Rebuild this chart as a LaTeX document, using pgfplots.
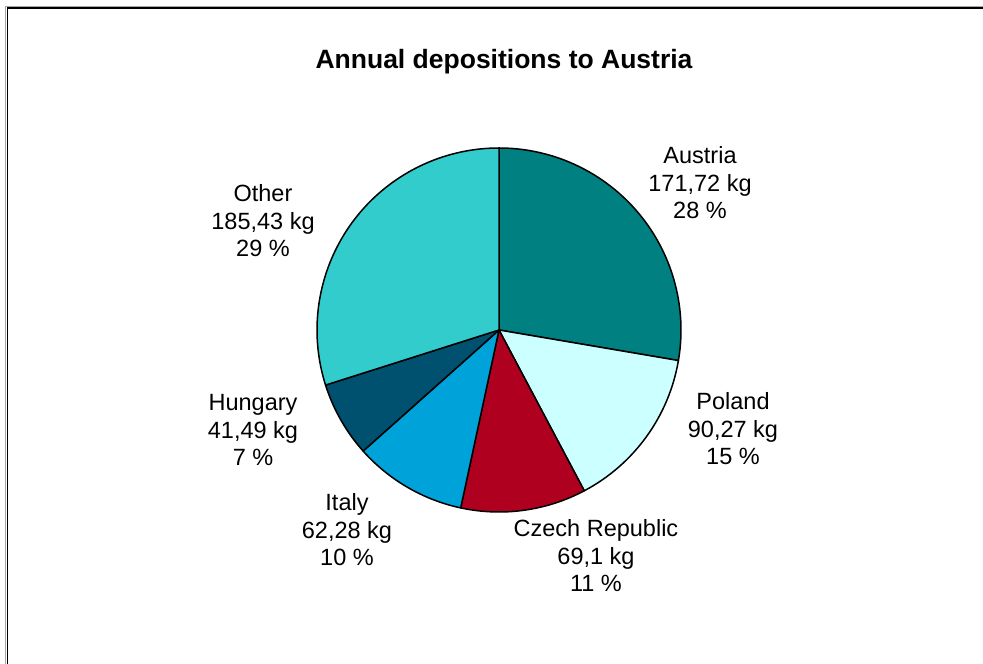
\documentclass[border=0pt]{standalone}
\usepackage{pgfplots}
\usepackage{pgfplotstable}
\pgfplotsset{compat=1.18}
\usepackage{fontspec}
\setmainfont{Liberation Sans}

\definecolor{pc0}{RGB}{0,128,128}
\definecolor{pc1}{RGB}{204,255,255}
\definecolor{pc2}{RGB}{176,0,32}
\definecolor{pc3}{RGB}{0,163,217}
\definecolor{pc4}{RGB}{0,80,112}
\definecolor{pc5}{RGB}{51,204,204}

% deposition per source country, kg
\pgfplotstableread{
name value
Austria 171.72
Poland 90.27
Czech 69.1
Italy 62.28
Hungary 41.49
Other 185.43
}\piedata

\begin{document}
\begin{tikzpicture}
\path[use as bounding box] (0,0) rectangle (983pt,664pt);
% total and slice angles (clockwise from the top)
\gdef\pietotal{0}
\pgfplotstableforeachcolumnelement{value}\of\piedata\as\v{%
  \pgfmathsetmacro\tmp{\pietotal+\v}\global\let\pietotal\tmp}
\gdef\acc{90}
\pgfplotstableforeachcolumnelement{value}\of\piedata\as\v{%
  \pgfmathsetmacro\en{\acc-\v/\pietotal*360}%
  \expandafter\xdef\csname ps\pgfplotstablerow\endcsname{\acc}%
  \expandafter\xdef\csname pe\pgfplotstablerow\endcsname{\en}%
  \global\let\acc\en}
\begin{axis}[
    at={(0,0)}, anchor=south west,
    width=983pt, height=664pt, scale only axis,
    xmin=0, xmax=983, ymin=0, ymax=664,
    hide axis
]
\pgfplotsinvokeforeach{0,...,5}{
  \filldraw[fill=pc#1, draw=black, line width=1.5pt, line join=round]
    (axis cs:499,334) -- ++(\csname ps#1\endcsname:182pt)
    arc[start angle=\csname ps#1\endcsname, end angle=\csname pe#1\endcsname, radius=182pt] -- cycle;
}
% outer frame
\draw[gray!70, line width=1pt] (axis cs:5.5,0) -- (axis cs:5.5,657.5) -- (axis cs:983,657.5);
\draw[black, line width=1.6pt] (axis cs:7.5,0) -- (axis cs:7.5,656) -- (axis cs:983,656);
\node[font=\fontsize{26.5}{30}\selectfont\bfseries] at (axis cs:504,602) {Annual depositions to Austria};
\tikzset{lbl/.style={align=center, font=\fontsize{23.5}{27.5}\selectfont, inner sep=0pt}}
\node[lbl] at (axis cs:700,481) {Austria\\171,72 kg\\28 \%};
\node[lbl] at (axis cs:733,235) {Poland\\90,27 kg\\15 \%};
\node[lbl] at (axis cs:596,108) {Czech Republic\\69,1 kg\\11 \%};
\node[lbl] at (axis cs:347,134) {Italy\\62,28 kg\\10 \%};
\node[lbl] at (axis cs:253,234) {Hungary\\41,49 kg\\7 \%};
\node[lbl] at (axis cs:263,443) {Other\\185,43 kg\\29 \%};
\end{axis}
\end{tikzpicture}
\end{document}
